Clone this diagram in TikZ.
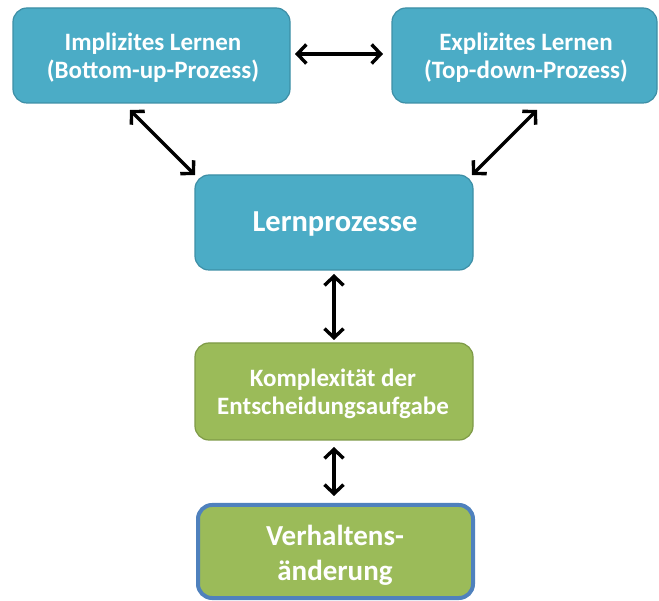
\documentclass[tikz,border=0pt]{standalone}
\usepackage{fontspec}
\setmainfont{Carlito}
\usetikzlibrary{arrows.meta}
\definecolor{bluefill}{HTML}{4BACC6}
\definecolor{blueedge}{HTML}{3D8FA6}
\definecolor{greenfill}{HTML}{9BBB59}
\definecolor{greenedge}{HTML}{7E9A47}
\definecolor{outerblue}{HTML}{4F81BD}
\begin{document}
\begin{tikzpicture}[x=1pt,y=-1pt,
  box/.style={rounded corners=14pt, line width=1.2pt},
  bluebox/.style={box, fill=bluefill, draw=blueedge},
  greenbox/.style={box, fill=greenfill, draw=greenedge},
  label/.style={text=white, align=center},
  dbl/.style={line width=3.4pt, {Straight Barb[length=9pt,width=19pt]}-{Straight Barb[length=9pt,width=19pt]}}
]
\useasboundingbox (0,0) rectangle (659,601);
% boxes
\draw[bluebox] (13,8) rectangle (290,103);
\draw[bluebox] (392,8) rectangle (657,103);
\draw[bluebox] (195,175) rectangle (473,270);
\draw[greenbox] (195,343) rectangle (473,440);
\draw[box, fill=greenfill, draw=outerblue, line width=4pt] (198,505) rectangle (473,598);
% labels / nodes
\node[label, font=\bfseries\fontsize{25}{28}\selectfont] (impl) at (153,58) {Implizites Lernen\\(Bottom-up-Prozess)};
\node[label, font=\bfseries\fontsize{25}{28}\selectfont] (expl) at (526,58) {Explizites Lernen\\(Top-down-Prozess)};
\node[label, font=\bfseries\fontsize{30.5}{34}\selectfont] (lern) at (335,224) {Lernprozesse};
\node[label, font=\bfseries\fontsize{25}{28}\selectfont] (komp) at (333,394) {Komplexität der\\Entscheidungsaufgabe};
\node[label, font=\bfseries\fontsize{29}{35}\selectfont] (verh) at (335,555) {Verhaltens-\\änderung};
% connector endpoints
\coordinate (a1) at (295,54); \coordinate (a2) at (383,54);
\coordinate (b1) at (130,110); \coordinate (b2) at (195,175);
\coordinate (c1) at (537,110); \coordinate (c2) at (472,175);
\coordinate (d1) at (334,274); \coordinate (d2) at (334,340);
\coordinate (e1) at (334,447); \coordinate (e2) at (334,496);
\draw[dbl] (a1) -- (a2);
\draw[dbl] (b1) -- (b2);
\draw[dbl] (c1) -- (c2);
\draw[dbl] (d1) -- (d2);
\draw[dbl] (e1) -- (e2);
\end{tikzpicture}
\end{document}
